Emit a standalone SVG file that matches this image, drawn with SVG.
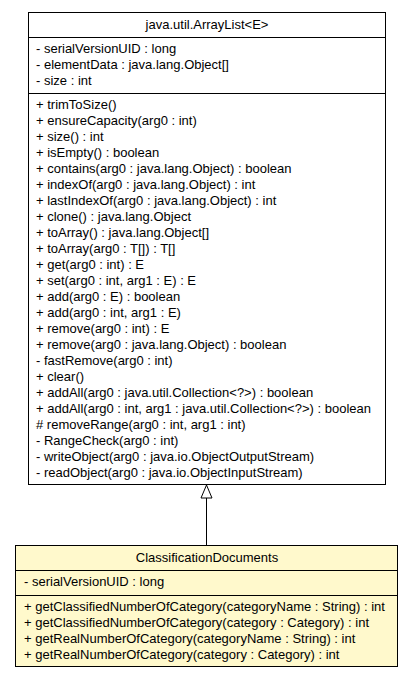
<svg xmlns="http://www.w3.org/2000/svg" width="413" height="677" viewBox="0 0 413 677">
<style>
text{font-family:"Liberation Sans",Arial,sans-serif;font-size:13px;fill:#000}
.t{text-anchor:middle}
.box{stroke:#000;stroke-width:1}
.sep{stroke:#000;stroke-width:1}
.edge{stroke:#000;stroke-width:1;fill:none}
</style>
<rect width="413" height="677" fill="#fff"/>
<g id="ArrayList">
<rect class="box" x="28.5" y="12.5" width="357" height="472" fill="#fff"/>
<line class="sep" x1="28.5" y1="37.5" x2="385.5" y2="37.5"/>
<line class="sep" x1="28.5" y1="93.5" x2="385.5" y2="93.5"/>
<text class="t" x="207" y="29">java.util.ArrayList&lt;E&gt;</text>
<text x="36" y="53">- serialVersionUID : long</text>
<text x="36" y="69">- elementData : java.lang.Object[]</text>
<text x="36" y="85">- size : int</text>
<text x="36" y="109">+ trimToSize()</text>
<text x="36" y="125">+ ensureCapacity(arg0 : int)</text>
<text x="36" y="141">+ size() : int</text>
<text x="36" y="157">+ isEmpty() : boolean</text>
<text x="36" y="173">+ contains(arg0 : java.lang.Object) : boolean</text>
<text x="36" y="189">+ indexOf(arg0 : java.lang.Object) : int</text>
<text x="36" y="205">+ lastIndexOf(arg0 : java.lang.Object) : int</text>
<text x="36" y="221">+ clone() : java.lang.Object</text>
<text x="36" y="237">+ toArray() : java.lang.Object[]</text>
<text x="36" y="253">+ toArray(arg0 : T[]) : T[]</text>
<text x="36" y="269">+ get(arg0 : int) : E</text>
<text x="36" y="285">+ set(arg0 : int, arg1 : E) : E</text>
<text x="36" y="301">+ add(arg0 : E) : boolean</text>
<text x="36" y="317">+ add(arg0 : int, arg1 : E)</text>
<text x="36" y="333">+ remove(arg0 : int) : E</text>
<text x="36" y="349">+ remove(arg0 : java.lang.Object) : boolean</text>
<text x="36" y="365">- fastRemove(arg0 : int)</text>
<text x="36" y="381">+ clear()</text>
<text x="36" y="397">+ addAll(arg0 : java.util.Collection&lt;?&gt;) : boolean</text>
<text x="36" y="413">+ addAll(arg0 : int, arg1 : java.util.Collection&lt;?&gt;) : boolean</text>
<text x="36" y="429"># removeRange(arg0 : int, arg1 : int)</text>
<text x="36" y="445">- RangeCheck(arg0 : int)</text>
<text x="36" y="461">- writeObject(arg0 : java.io.ObjectOutputStream)</text>
<text x="36" y="477">- readObject(arg0 : java.io.ObjectInputStream)</text>
</g>
<g id="ClassificationDocuments">
<rect class="box" x="15.5" y="545.5" width="382" height="121" fill="#fff9cc"/>
<line class="sep" x1="15.5" y1="570.5" x2="397.5" y2="570.5"/>
<line class="sep" x1="15.5" y1="595.5" x2="397.5" y2="595.5"/>
<text class="t" x="207" y="562">ClassificationDocuments</text>
<text x="24" y="586">- serialVersionUID : long</text>
<text x="24" y="611">+ getClassifiedNumberOfCategory(categoryName : String) : int</text>
<text x="24" y="627">+ getClassifiedNumberOfCategory(category : Category) : int</text>
<text x="24" y="643">+ getRealNumberOfCategory(categoryName : String) : int</text>
<text x="24" y="659">+ getRealNumberOfCategory(category : Category) : int</text>
</g>
<g id="connectors">
<line class="edge" x1="206.5" y1="498" x2="206.5" y2="545"/>
<polygon class="edge" points="206.5,485 201,498 212,498" fill="#fff"/>
</g>
</svg>
